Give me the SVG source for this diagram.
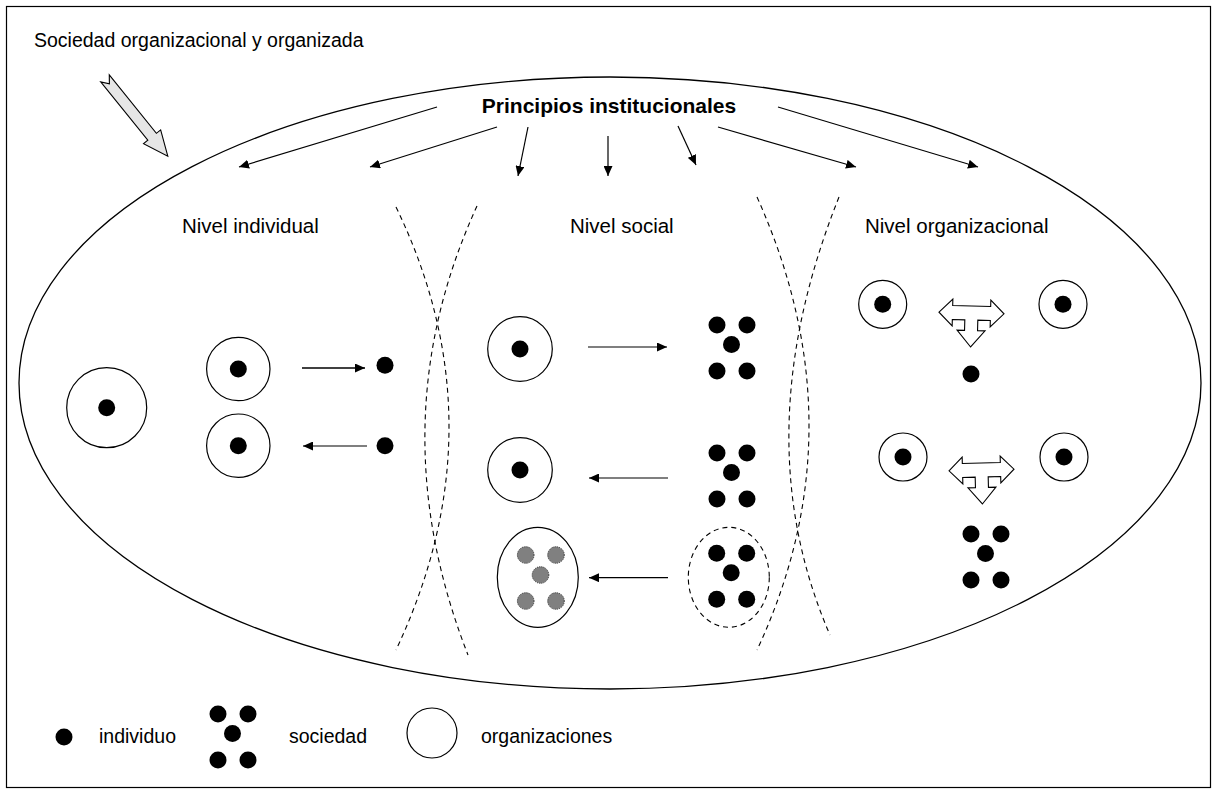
<svg xmlns="http://www.w3.org/2000/svg" xmlns:xlink="http://www.w3.org/1999/xlink" width="1218" height="794" viewBox="0 0 1218 794">
<style>
text{font-family:"Liberation Sans",Arial,sans-serif;fill:#000}
.lbl{font-size:20.5px}
.ttl{font-size:19.5px}
.leg{font-size:19.5px}
.ring{fill:#fff;stroke:#000;stroke-width:1.2}
.dot{fill:#000}
.gdot{fill:#808080;stroke:#303030;stroke-width:1;stroke-dasharray:1.2 1}
.conn{stroke:#000;stroke-width:1.2;fill:none;marker-end:url(#ah)}
.dash{stroke:#000;stroke-width:1.1;fill:none;stroke-dasharray:5 4}
.block{fill:#fff;stroke:#000;stroke-width:1.1;stroke-linejoin:miter}
</style>
<defs>
<marker id="ah" markerUnits="userSpaceOnUse" markerWidth="10" markerHeight="9" viewBox="0 0 10 9" refX="10" refY="4.5" orient="auto">
<path d="M0,0 L10,4.5 L0,9 Z" fill="#000"/>
</marker>
<path id="tarrow" class="block" d="M-32.5,0 L-19,-13.5 L-19,-7 L19,-7 L19,-13.5 L32.5,0 L19,13.5 L19,7 L6.5,7 L6.5,17.5 L14,17.5 L0,34 L-14,17.5 L-6.5,17.5 L-6.5,7 L-19,7 L-19,13.5 Z"/>
<g id="soc">
<circle cx="0" cy="0" r="8.5"/><circle cx="30" cy="0" r="8.5"/><circle cx="14.5" cy="19.5" r="8.5"/><circle cx="0" cy="46" r="8.5"/><circle cx="30" cy="46" r="8.5"/>
</g>
</defs>
<rect x="6.5" y="6.5" width="1204" height="781" fill="#fff" stroke="#000" stroke-width="1.2"/>
<text x="34" y="47" class="ttl">Sociedad organizacional y organizada</text>

<g id="society">
<ellipse cx="610" cy="383" rx="591" ry="306" fill="none" stroke="#000" stroke-width="1.3"/>
</g>

<g id="entry-arrow">
<polygon transform="translate(105,78.4) rotate(51.1)" points="0,-5.5 75,-5.5 75,-11 100,0 75,11 75,5.5 0,5.5 7,0" fill="#e6e6e6" stroke="#000" stroke-width="1.1"/>
</g>

<g id="principios">
<text x="609" y="113" text-anchor="middle" style="font-size:21px;font-weight:bold">Principios institucionales</text>
</g>

<g id="labels">
<text x="182" y="233" class="lbl">Nivel individual</text>
<text x="570" y="233" class="lbl">Nivel social</text>
<text x="865" y="233" class="lbl">Nivel organizacional</text>
</g>

<g id="boundaries">
<path class="dash" d="M396,207 Q502,425.5 396,650"/>
<path class="dash" d="M477,206 Q377.5,423.5 468,655"/>
<path class="dash" d="M757,197 Q861,428 757,650"/>
<path class="dash" d="M839,197 Q743.5,436 830,635"/>
</g>

<g id="nivel-individual">
<circle class="ring" cx="106.7" cy="407.7" r="40"/><circle class="dot" cx="106.7" cy="407.7" r="8.5"/>
<circle class="ring" cx="238.3" cy="369" r="31.7"/><circle class="dot" cx="238.3" cy="369" r="8.5"/>
<circle class="ring" cx="238.3" cy="445.7" r="31.7"/><circle class="dot" cx="238.3" cy="445.7" r="8.5"/>
<circle class="dot" cx="385" cy="365.3" r="8.5"/>
<circle class="dot" cx="385" cy="445.7" r="8.5"/>
</g>

<g id="nivel-social">
<circle class="ring" cx="520" cy="349" r="32.3"/><circle class="dot" cx="520" cy="349" r="8.5"/>
<circle class="ring" cx="520" cy="470" r="32.3"/><circle class="dot" cx="520" cy="470" r="8.5"/>
<use xlink:href="#soc" x="717" y="325"/>
<use xlink:href="#soc" x="717" y="453"/>
<ellipse class="ring" cx="537.8" cy="577.3" rx="40.5" ry="50"/>
<circle class="gdot" cx="525.7" cy="555" r="8.3"/><circle class="gdot" cx="556" cy="555" r="8.3"/><circle class="gdot" cx="540.5" cy="575" r="8.3"/><circle class="gdot" cx="525.7" cy="601" r="8.3"/><circle class="gdot" cx="556" cy="601" r="8.3"/>
<ellipse cx="728.8" cy="577.3" rx="40.5" ry="50" fill="none" stroke="#000" stroke-width="1.1" stroke-dasharray="5 4"/>
<use xlink:href="#soc" x="716.7" y="553.3"/>
</g>

<g id="nivel-organizacional">
<circle class="ring" cx="882.7" cy="304.3" r="24"/><circle class="dot" cx="882.7" cy="304.3" r="8.5"/>
<circle class="ring" cx="1063" cy="304.3" r="24"/><circle class="dot" cx="1063" cy="304.3" r="8.5"/>
<use xlink:href="#tarrow" transform="translate(971.5,313) rotate(1.5)"/>
<circle class="dot" cx="971" cy="374" r="8.5"/>
<circle class="ring" cx="903" cy="457" r="24"/><circle class="dot" cx="903" cy="457" r="8.5"/>
<circle class="ring" cx="1064" cy="457" r="24"/><circle class="dot" cx="1064" cy="457" r="8.5"/>
<use xlink:href="#tarrow" transform="translate(981.5,470) rotate(-1.5)"/>
<use xlink:href="#soc" x="971" y="534"/>
</g>

<g id="connectors">
<line class="conn" x1="437" y1="107" x2="239" y2="167"/>
<line class="conn" x1="497" y1="127" x2="370" y2="167"/>
<line class="conn" x1="528" y1="127" x2="518" y2="176"/>
<line class="conn" x1="608" y1="136" x2="608" y2="176"/>
<line class="conn" x1="678" y1="126" x2="696" y2="165"/>
<line class="conn" x1="718" y1="127" x2="856" y2="167"/>
<line class="conn" x1="778" y1="107" x2="978" y2="167"/>
<line class="conn" x1="302" y1="368" x2="365" y2="368" style="stroke-width:1.5"/>
<line class="conn" x1="367" y1="446" x2="303" y2="446"/>
<line class="conn" x1="588" y1="347" x2="667" y2="347"/>
<line class="conn" x1="668" y1="478" x2="589" y2="478"/>
<line class="conn" x1="668" y1="577.7" x2="589" y2="577.7"/>
</g>

<g id="legend">
<circle class="dot" cx="64" cy="737" r="8.5"/>
<text x="99" y="743" class="leg">individuo</text>
<use xlink:href="#soc" x="218" y="714"/>
<text x="289" y="743" class="leg">sociedad</text>
<circle class="ring" cx="432" cy="733" r="25"/>
<text x="481" y="743" class="leg">organizaciones</text>
</g>
</svg>
